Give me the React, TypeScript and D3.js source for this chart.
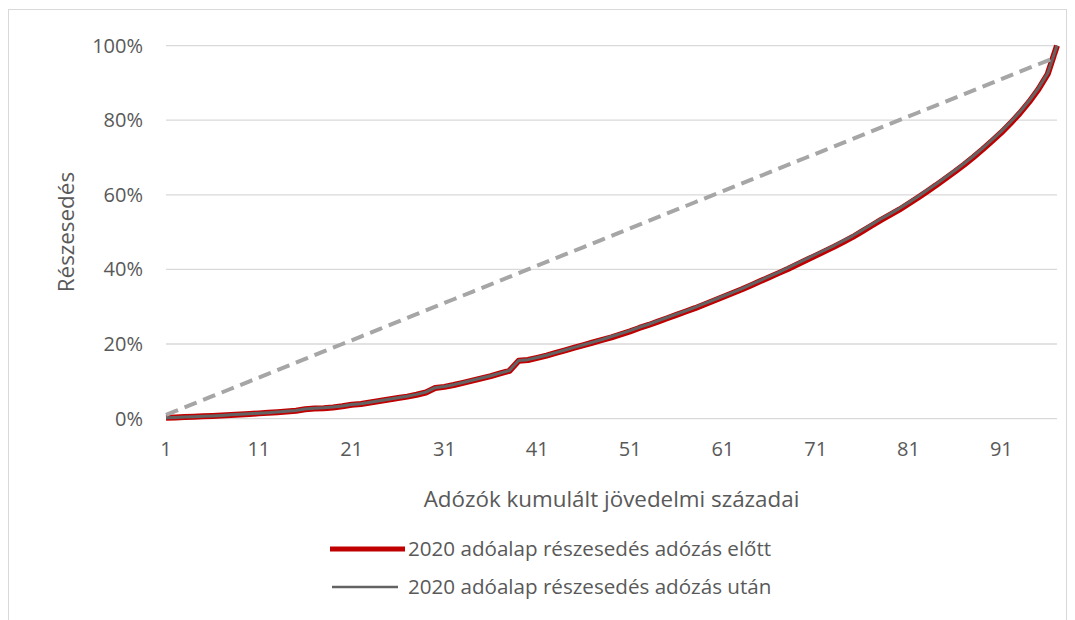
import React from 'react';
import * as d3 from 'd3';

// adózók kumulált jövedelmi századai (1..97)
const categories = [
  1, 2, 3, 4, 5, 6, 7, 8, 9, 10,
  11, 12, 13, 14, 15, 16, 17, 18, 19, 20,
  21, 22, 23, 24, 25, 26, 27, 28, 29, 30,
  31, 32, 33, 34, 35, 36, 37, 38, 39, 40,
  41, 42, 43, 44, 45, 46, 47, 48, 49, 50,
  51, 52, 53, 54, 55, 56, 57, 58, 59, 60,
  61, 62, 63, 64, 65, 66, 67, 68, 69, 70,
  71, 72, 73, 74, 75, 76, 77, 78, 79, 80,
  81, 82, 83, 84, 85, 86, 87, 88, 89, 90,
  91, 92, 93, 94, 95, 96, 97,
];

// részesedés adózás előtt (%)
const beforeTax = [
  0.2, 0.3, 0.4, 0.5, 0.6, 0.7, 0.8, 0.95, 1.1, 1.25,
  1.4, 1.55, 1.7, 1.9, 2.1, 2.5, 2.7, 2.8, 3.0, 3.3,
  3.7, 3.9, 4.3, 4.7, 5.1, 5.5, 5.9, 6.4, 7.0, 8.2,
  8.5, 9.0, 9.6, 10.2, 10.8, 11.4, 12.1, 12.8, 15.5, 15.7,
  16.3, 16.9, 17.6, 18.3, 19.0, 19.7, 20.4, 21.1, 21.8, 22.6,
  23.4, 24.3, 25.1, 26.0, 26.9, 27.8, 28.7, 29.6, 30.6, 31.6,
  32.6, 33.6, 34.6, 35.7, 36.8, 37.9, 39.0, 40.1, 41.3, 42.5,
  43.7, 44.9, 46.1, 47.4, 48.7, 50.2, 51.7, 53.2, 54.6, 56.0,
  57.6, 59.2, 60.9, 62.6, 64.4, 66.2, 68.1, 70.1, 72.2, 74.4,
  76.7, 79.2, 81.9, 84.9, 88.3, 92.4, 100.0,
];

// részesedés adózás után (%)
const afterTax = [
  0.2, 0.3, 0.4, 0.5, 0.6, 0.7, 0.85, 1.0, 1.15, 1.3,
  1.45, 1.6, 1.75, 1.95, 2.2, 2.6, 2.8, 2.9, 3.1, 3.4,
  3.8, 4.0, 4.4, 4.8, 5.2, 5.6, 6.0, 6.5, 7.1, 8.3,
  8.6, 9.1, 9.7, 10.3, 10.9, 11.5, 12.2, 12.9, 15.6, 15.8,
  16.4, 17.0, 17.7, 18.4, 19.1, 19.8, 20.5, 21.2, 22.0, 22.8,
  23.6, 24.5, 25.3, 26.2, 27.1, 28.0, 28.9, 29.8, 30.8, 31.8,
  32.8, 33.8, 34.8, 35.9, 37.0, 38.1, 39.2, 40.4, 41.6, 42.8,
  44.0, 45.2, 46.4, 47.7, 49.0, 50.5, 52.0, 53.5, 54.9, 56.3,
  57.9, 59.5, 61.2, 62.9, 64.7, 66.5, 68.4, 70.4, 72.5, 74.7,
  77.0, 79.5, 82.2, 85.2, 88.6, 92.6, 100.0,
];

// egyenlő eloszlás (szaggatott vonal, %)
const equality = [
  1, 2, 3, 4, 5, 6, 7, 8, 9, 10,
  11, 12, 13, 14, 15, 16, 17, 18, 19, 20,
  21, 22, 23, 24, 25, 26, 27, 28, 29, 30,
  31, 32, 33, 34, 35, 36, 37, 38, 39, 40,
  41, 42, 43, 44, 45, 46, 47, 48, 49, 50,
  51, 52, 53, 54, 55, 56, 57, 58, 59, 60,
  61, 62, 63, 64, 65, 66, 67, 68, 69, 70,
  71, 72, 73, 74, 75, 76, 77, 78, 79, 80,
  81, 82, 83, 84, 85, 86, 87, 88, 89, 90,
  91, 92, 93, 94, 95, 96, 97,
];

const xTicks = [1, 11, 21, 31, 41, 51, 61, 71, 81, 91];
const yTicks = [0, 20, 40, 60, 80, 100];

const seriesNames = [
  '2020 adóalap részesedés adózás előtt',
  '2020 adóalap részesedés adózás után',
];

const FONT = '"Open Sans", "Liberation Sans", sans-serif';
const TEXT = '#595959';

export default function App() {
  const W = 1075;
  const H = 620;
  const left = 166;
  const right = 1057;
  const top = 45.6;
  const bottom = 418.6;

  const x = d3.scalePoint<number>().domain(categories).range([left, right]);
  const y = d3.scaleLinear().domain([0, 100]).range([bottom, top]);

  const line = d3
    .line<number>()
    .x((_, i) => x(categories[i]) as number)
    .y((d) => y(d));

  return (
    <svg
      width={W}
      height={H}
      style={{ position: 'absolute', left: 0, top: 0, display: 'block', background: '#fff' }}
      fontFamily={FONT}
    >
      {/* chart area border */}
      <rect x={8.5} y={9.5} width={1058} height={640} fill="none" stroke="#d9d9d9" strokeWidth={1} />

      {/* gridlines */}
      {yTicks.map((t) => (
        <line key={t} x1={left} x2={right} y1={y(t)} y2={y(t)} stroke="#d9d9d9" strokeWidth={1.3} />
      ))}

      {/* y tick labels */}
      {yTicks.map((t) => (
        <text key={t} x={143} y={y(t)} dy="0.35em" textAnchor="end" fontSize={20} fill={TEXT}>
          {t}%
        </text>
      ))}

      {/* x tick labels */}
      {xTicks.map((t) => (
        <text key={t} x={x(t)} y={449} dy="0.35em" textAnchor="middle" fontSize={20} fill={TEXT}>
          {t}
        </text>
      ))}

      {/* series */}
      <path d={line(beforeTax) || ''} fill="none" stroke="#c00000" strokeWidth={6} strokeLinejoin="round" />
      <path d={line(afterTax) || ''} fill="none" stroke="#636363" strokeWidth={3} strokeLinejoin="round" />
      <path
        d={line(equality) || ''}
        fill="none"
        stroke="#a6a6a6"
        strokeWidth={4}
        strokeDasharray="13,7"
      />

      {/* axis titles */}
      <text x={(left + right) / 2} y={499} dy="0.35em" textAnchor="middle" fontSize={22.4} fill={TEXT}>
        Adózók kumulált jövedelmi századai
      </text>
      <text
        transform={`translate(66.5, ${(top + bottom) / 2}) rotate(-90)`}
        textAnchor="middle"
        dy="0.35em"
        fontSize={22.4}
        fill={TEXT}
      >
        Részesedés
      </text>

      {/* legend */}
      <line x1={330} x2={405} y1={549} y2={549} stroke="#c00000" strokeWidth={5} />
      <text x={408} y={549} dy="0.35em" fontSize={20.6} fill={TEXT}>
        {seriesNames[0]}
      </text>
      <line x1={332} x2={398} y1={587} y2={587} stroke="#636363" strokeWidth={2.5} />
      <text x={408} y={587} dy="0.35em" fontSize={20.6} fill={TEXT}>
        {seriesNames[1]}
      </text>
    </svg>
  );
}
